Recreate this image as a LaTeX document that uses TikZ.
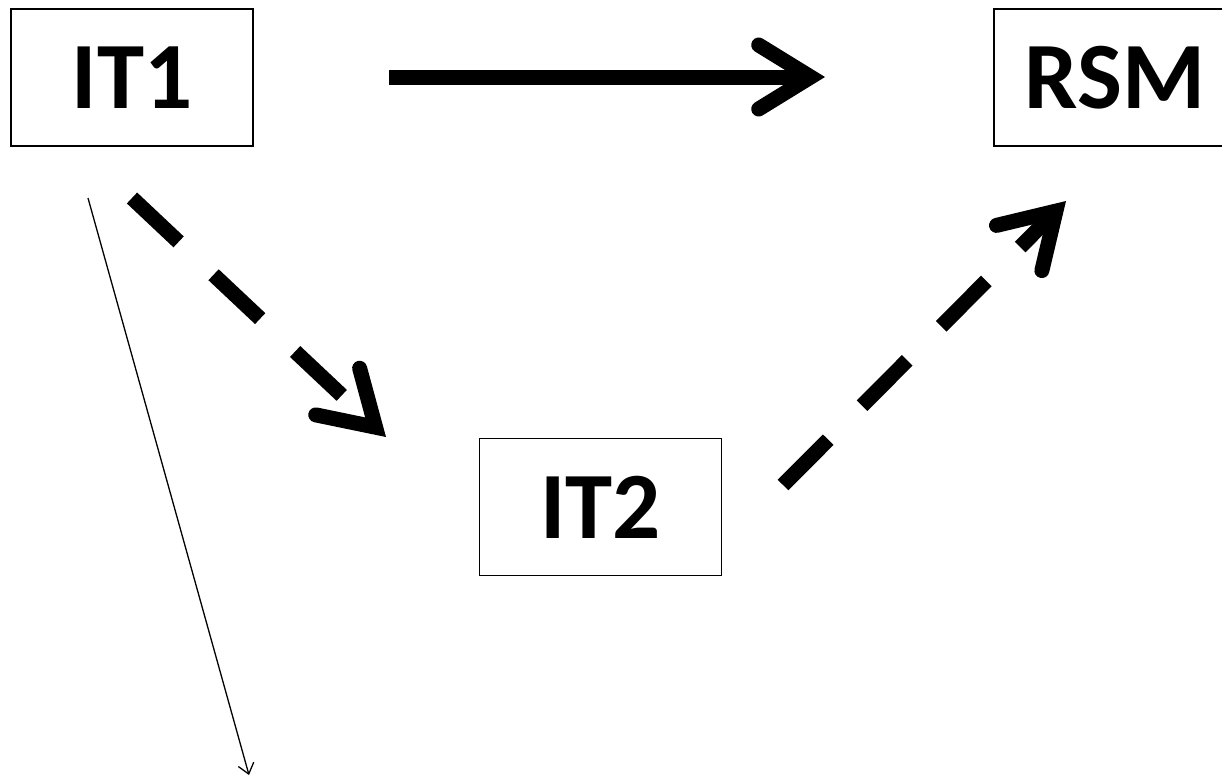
\documentclass[tikz,border=0pt]{standalone}
\usepackage{fontspec}
\setmainfont{Carlito}
\usetikzlibrary{arrows.meta}
\tikzset{
  box/.style={draw, line width=1.5pt, minimum width=242pt, minimum height=137pt,
    inner sep=0pt, font=\fontsize{95}{100}\selectfont\bfseries},
  bigarrow/.style={line width=15pt, line cap=butt,
    -{Straight Barb[length=52pt,width=64pt,line cap=round,line join=miter]}},
  dasharrow/.style={bigarrow, dash pattern=on 64pt off 48pt},
  thinarrow/.style={line width=1.3pt, -{Straight Barb[length=10pt,width=16pt]}}
}
\begin{document}
\begin{tikzpicture}[x=1pt,y=-1pt]
\useasboundingbox (0,0) rectangle (1222,777);
\node[box] (IT1) at (132,77.5) {IT1};
\node[box] (RSM) at (1115,77.5) {RSM};
\node[box] (IT2) at (600.5,507) {IT2};
\coordinate (a1) at (389,77);
\coordinate (a2) at (825,77);
\coordinate (b1) at (132,198);
\coordinate (b2) at (386,437);
\coordinate (c1) at (783,485);
\coordinate (c2) at (1066,201);
\coordinate (d1) at (88,198);
\coordinate (d2) at (249,775);
\draw[bigarrow] (a1) -- (a2);
\draw[dasharrow] (b1) -- (b2);
\draw[dasharrow] (c1) -- (c2);
\draw[thinarrow] (d1) -- (d2);
\end{tikzpicture}
\end{document}
